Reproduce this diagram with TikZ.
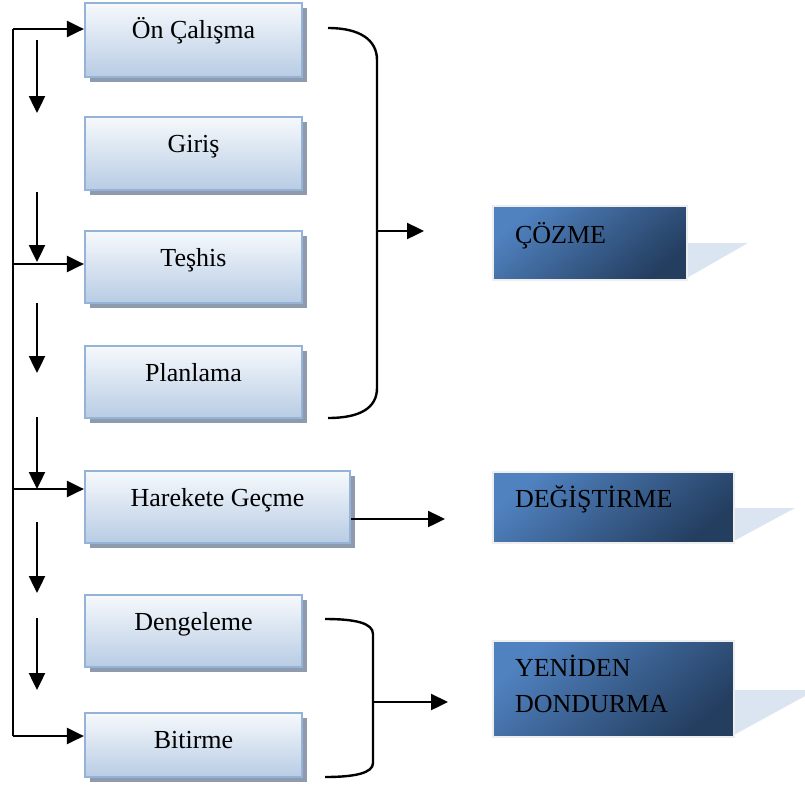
\documentclass[tikz,border=0pt]{standalone}
\usepackage{fontspec}
\setmainfont{Liberation Serif}
\usetikzlibrary{arrows.meta,shadows}

\definecolor{boxedge}{RGB}{149,179,215}
\definecolor{boxtop}{RGB}{246,249,252}
\definecolor{boxbot}{RGB}{184,204,228}
\definecolor{boxshade}{RGB}{142,155,175}
\definecolor{darktop}{RGB}{80,130,192}
\definecolor{darkbot}{RGB}{36,62,96}
\definecolor{darkedge}{RGB}{238,238,238}
\definecolor{tail}{RGB}{219,229,241}

\tikzset{
  stepbox/.style={draw=boxedge, line width=2.2pt, inner xsep=0pt, inner ysep=0pt,
    top color=boxtop, bottom color=boxbot,
    drop shadow={shadow xshift=4.5pt, shadow yshift=-4.5pt, fill=boxshade, opacity=1},
    text height=35.5pt, text depth=#1, font=\fontsize{26}{36}\selectfont},
  phasebox/.style={draw=darkedge, line width=2.5pt, inner xsep=22pt, inner ysep=0pt,
    top color=darktop, bottom color=darkbot, shading angle=40,
    align=left, font=\fontsize{26}{36}\selectfont},
  link/.style={line width=2.4pt, -{Triangle[length=17pt,width=16pt]}},
  brace/.style={line width=2.4pt},
}

\begin{document}
\begin{tikzpicture}[x=1pt,y=-1pt]
\useasboundingbox (0,0) rectangle (805,785);

% steps of the process
\node[stepbox=38.5pt, minimum width=217pt] (on)   at (193.5,40)  {Ön Çalışma};
\node[stepbox=37.5pt, minimum width=217pt] (giris) at (193.5,153.5) {Giriş};
\node[stepbox=36.5pt, minimum width=217pt] (teshis) at (193.5,267) {Teşhis};
\node[stepbox=36.5pt, minimum width=217pt] (plan) at (193.5,382) {Planlama};
\node[stepbox=36.5pt, minimum width=265pt] (hare) at (217.5,507) {Harekete Geçme};
\node[stepbox=36.5pt, minimum width=217pt] (deng) at (193.5,631) {Dengeleme};
\node[stepbox=28.5pt, minimum width=217pt] (bit)  at (193.5,745) {Bitirme};

% phase tails
\fill[tail] (685,243) -- (748,243) -- (685,279) -- cycle;
\fill[tail] (732,508) -- (795,508) -- (732,542) -- cycle;
\fill[tail] (732,690) -- (816,690) -- (732,736) -- cycle;

% phases
\node[phasebox, text width=150pt, text height=37pt, text depth=37pt] (coz) at (590,243) {ÇÖZME};
\node[phasebox, text width=197pt, text height=35pt, text depth=36pt] (degis) at (613.5,507.5) {DEĞİŞTİRME};
\node[phasebox, text width=197pt, text height=35pt, text depth=61pt] (yeni) at (613.5,689) {YENİDEN\\DONDURMA};

% feedback spine on the left
\coordinate (s1) at (13,29);
\coordinate (s2) at (13,264);
\coordinate (s3) at (13,489);
\coordinate (s4) at (13,736);
\draw[brace] (s1) -- (s4);
\draw[link] (s1) -- (s1 -| on.west);
\draw[link] (s2) -- (s2 -| teshis.west);
\draw[link] (s3) -- (s3 -| hare.west);
\draw[link] (s4) -- (s4 -| bit.west);

% downward sequence arrows
\foreach \a/\b [count=\i] in {40/113, 192/262, 303/373, 417/489, 522/593, 618/690}{
  \coordinate (d\i a) at (37,\a);
  \coordinate (d\i b) at (37,\b);
  \draw[link] (d\i a) -- (d\i b);
}

% first group bracket
\draw[brace] (328,28) .. controls (360,28) and (377,40) .. (377,60)
  -- (377,388) .. controls (377,408) and (360,418) .. (328,418);
\coordinate (b1) at (377,231);
\coordinate (b1e) at (424,231);
\draw[link] (b1) -- (b1e);

% single step arrow
\coordinate (h1e) at (445,519);
\draw[link] (hare.east |- h1e) -- (h1e);

% second group bracket
\draw[brace] (325,619) .. controls (355,619) and (373,623) .. (373,634)
  -- (373,763) .. controls (373,773) and (355,777) .. (325,777);
\coordinate (b2) at (373,702);
\coordinate (b2e) at (448,702);
\draw[link] (b2) -- (b2e);
\end{tikzpicture}
\end{document}
